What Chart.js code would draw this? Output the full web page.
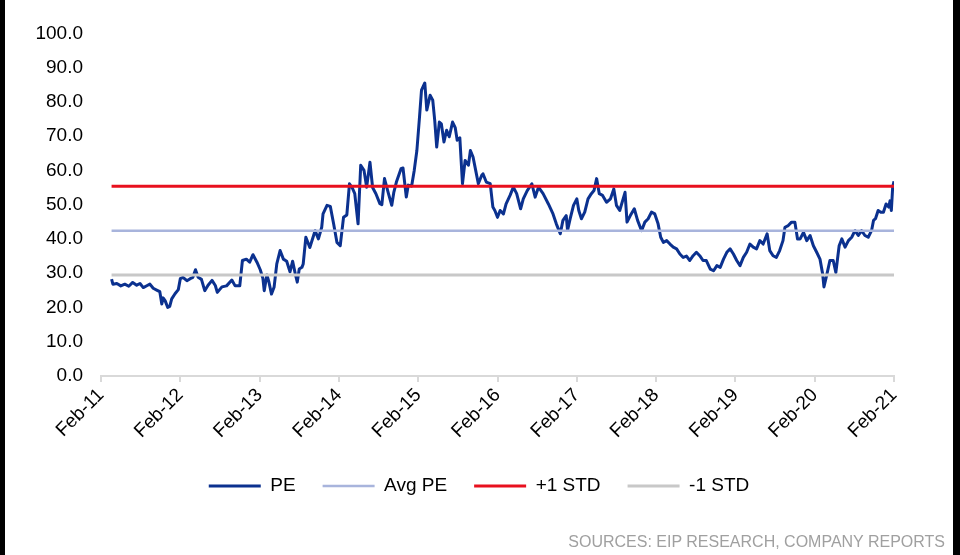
<!DOCTYPE html>
<html>
<head>
<meta charset="utf-8">
<script src="https://cdn.jsdelivr.net/npm/chart.js@4.4.1/dist/chart.umd.min.js"></script>
<style>
  html, body { margin: 0; padding: 0; background: #000; }
  #frame { position: absolute; left: 5px; top: 0; width: 948px; height: 555px; background: #fff; }
  #chart { position: absolute; left: 0; top: 0; }
  #source {
    position: absolute; right: 8px; top: 534px;
    font: 16px "Liberation Sans", Arial, sans-serif; line-height: 16px;
    color: #a0a0a0; white-space: nowrap;
  }
</style>
</head>
<body>
<div id="frame">
  <canvas id="chart" width="948" height="555"></canvas>
  <div id="source">SOURCES: EIP RESEARCH, COMPANY REPORTS</div>
</div>
<script>
// months since Feb-11 (x) and PE multiple (y)
const peMonths = [
  1.6, 1.8, 2.4, 3.0, 3.6, 4.2, 4.8, 5.4, 5.9, 6.4,
  7.0, 7.4, 7.9, 8.5, 8.9, 9.2, 9.4, 9.7, 10.1, 10.4,
  10.7, 11.2, 11.7, 12.0, 12.4, 13.0, 13.5, 13.9, 14.3, 14.7,
  15.2, 15.7, 16.2, 16.8, 17.3, 17.6, 18.3, 19.0, 19.8, 20.3,
  21.0, 21.4, 22.0, 22.5, 23.0, 23.6, 24.1, 24.5, 24.7, 25.1,
  25.4, 25.8, 26.2, 26.6, 27.1, 27.6, 28.1, 28.6, 29.0, 29.4,
  29.7, 30.0, 30.4, 30.6, 31.0, 31.6, 32.4, 32.9, 33.4, 33.6,
  34.2, 34.7, 35.2, 35.7, 36.2, 36.7, 37.2, 37.6, 38.0, 38.4,
  38.9, 39.3, 39.8, 40.2, 40.7, 41.1, 41.6, 42.2, 42.5, 42.9,
  43.5, 44.0, 44.3, 44.7, 45.4, 45.7, 46.2, 46.5, 47.0, 47.4,
  47.8, 48.2, 48.5, 49.0, 49.3, 49.8, 50.2, 50.5, 50.8, 51.2,
  51.5, 51.9, 52.3, 52.7, 53.2, 53.6, 53.9, 54.3, 54.7, 55.1,
  55.6, 55.9, 56.3, 56.7, 57.1, 57.6, 57.8, 58.3, 58.9, 59.3,
  59.6, 60.0, 60.4, 60.9, 61.3, 61.9, 62.4, 62.9, 63.5, 63.9,
  64.5, 65.2, 65.7, 66.2, 66.9, 67.7, 68.4, 68.9, 69.5, 69.9,
  70.4, 70.6, 71.0, 71.5, 72.0, 72.3, 72.7, 73.2, 73.7, 74.2,
  74.6, 75.0, 75.4, 75.9, 76.5, 77.1, 77.6, 78.0, 78.5, 79.3,
  79.6, 80.1, 80.7, 81.2, 81.8, 82.3, 82.8, 83.3, 83.8, 84.3,
  84.7, 85.1, 85.6, 86.1, 86.6, 87.1, 87.6, 88.1, 88.6, 89.1,
  89.6, 90.1, 90.6, 91.1, 91.6, 92.2, 92.7, 93.2, 93.7, 94.2,
  94.7, 95.2, 95.7, 96.2, 96.7, 97.2, 97.7, 98.2, 98.7, 99.2,
  99.7, 100.2, 100.8, 101.2, 101.7, 102.2, 102.7, 103.2, 103.5, 104.0,
  104.5, 105.0, 105.4, 105.8, 106.3, 106.8, 107.3, 107.8, 108.3, 108.8,
  109.2, 109.4, 109.8, 110.3, 110.8, 111.2, 111.7, 112.1, 112.6, 113.1,
  113.6, 114.1, 114.6, 115.1, 115.6, 116.1, 116.6, 116.9, 117.2, 117.6,
  118.0, 118.4, 118.8, 119.2, 119.4, 119.6, 119.8, 120.0
];
const peValues = [
  28.3, 26.8, 27.0, 26.3, 26.8, 26.2, 27.3, 26.5, 27.0, 25.8,
  26.4, 26.8, 25.6, 25.0, 24.6, 21.0, 22.8, 22.0, 20.0, 20.3,
  22.5, 24.0, 25.2, 28.4, 28.8, 27.8, 28.4, 28.8, 31.0, 28.8,
  28.2, 24.9, 26.5, 27.9, 26.4, 24.4, 26.0, 26.3, 28.0, 26.3,
  26.3, 33.7, 34.1, 33.2, 35.4, 33.2, 31.0, 28.5, 24.9, 29.5,
  27.5, 23.9, 26.0, 32.7, 36.6, 34.1, 33.5, 30.4, 33.5, 29.8,
  27.4, 31.2, 31.7, 32.7, 40.5, 37.5, 42.4, 40.0, 43.4, 47.3,
  49.8, 49.5, 44.4, 39.0, 38.0, 46.3, 47.0, 56.1, 55.0, 53.2,
  44.4, 61.5, 60.0, 55.1, 62.4, 55.0, 53.2, 50.3, 50.0, 57.6,
  53.2, 49.8, 53.5, 56.6, 60.5, 60.7, 52.2, 55.7, 55.4, 60.0,
  65.8, 75.6, 83.4, 85.5, 77.6, 81.9, 80.5, 74.6, 66.8, 74.1,
  73.6, 68.3, 71.7, 69.8, 74.1, 72.5, 68.8, 69.5, 56.1, 62.9,
  61.5, 65.8, 63.9, 60.0, 56.1, 58.5, 59.0, 56.6, 56.1, 49.3,
  48.3, 46.3, 48.3, 47.3, 50.2, 52.7, 55.1, 53.2, 48.8, 51.7,
  54.1, 56.1, 52.2, 55.1, 53.2, 50.2, 47.3, 44.4, 41.5, 45.4,
  46.8, 42.5, 45.9, 49.8, 51.7, 48.3, 45.9, 47.8, 51.7, 53.2,
  54.1, 57.6, 53.2, 52.7, 50.7, 51.7, 54.6, 49.8, 48.3, 53.6,
  44.9, 46.8, 48.8, 45.4, 42.4, 44.9, 45.9, 47.8, 47.3, 44.4,
  40.5, 39.0, 39.5, 38.5, 37.6, 37.1, 35.6, 34.6, 35.0, 33.7,
  35.1, 36.1, 35.1, 33.7, 33.7, 31.2, 30.7, 32.2, 31.7, 34.1,
  36.1, 37.1, 35.6, 33.7, 32.2, 34.6, 36.1, 38.5, 37.6, 37.1,
  39.5, 38.5, 41.5, 36.6, 35.1, 34.6, 36.6, 39.5, 43.4, 43.9,
  44.9, 44.9, 40.0, 40.0, 41.9, 39.5, 41.0, 38.0, 36.1, 34.1,
  29.8, 26.0, 29.3, 33.7, 33.7, 30.2, 38.0, 40.0, 37.6, 39.5,
  40.5, 42.4, 41.0, 42.4, 41.0, 40.5, 42.4, 45.4, 45.9, 48.3,
  47.8, 47.8, 50.2, 49.3, 51.1, 48.3, 55.1, 56.8
];

const avgPE = 42.4;
const plusOneStd = 55.4;
const minusOneStd = 29.5;

// x axis: one tick per February, 2011..2021
const tickYears = ['11', '12', '13', '14', '15', '16', '17', '18', '19', '20', '21'];
const yTicks = [0, 10, 20, 30, 40, 50, 60, 70, 80, 90, 100];

const FONT = '"Liberation Sans", Arial, sans-serif';

const pePoints = peMonths.map((m, i) => ({ x: m, y: peValues[i] }));
const firstX = peMonths[0];
const lastX = peMonths[peMonths.length - 1];
const flat = (v) => [{ x: firstX, y: v }, { x: lastX, y: v }];

new Chart(document.getElementById('chart'), {
  type: 'line',
  data: {
    datasets: [
      { label: 'PE', data: pePoints, borderColor: '#0b318f', borderWidth: 3, order: 1 },
      { label: 'Avg PE', data: flat(avgPE), borderColor: '#a8b4dc', borderWidth: 2.5, order: 0 },
      { label: '+1 STD', data: flat(plusOneStd), borderColor: '#e8101e', borderWidth: 3, order: 0 },
      { label: '-1 STD', data: flat(minusOneStd), borderColor: '#c8c8c8', borderWidth: 3, order: 0 },
    ],
  },
  options: {
    responsive: false,
    animation: false,
    elements: {
      point: { radius: 0, hoverRadius: 0 },
      line: { tension: 0, fill: false, borderJoinStyle: 'round' },
    },
    layout: { padding: { top: 33.3, right: 0, bottom: 49.5, left: 0 } },
    plugins: {
      tooltip: { enabled: false },
      legend: {
        position: 'bottom',
        labels: {
          usePointStyle: true,
          pointStyle: 'line',
          pointStyleWidth: 52,
          padding: 27,
          color: '#000',
          font: { family: FONT, size: 19 },
          sort: (a, b) => a.datasetIndex - b.datasetIndex,
        },
      },
    },
    scales: {
      x: {
        type: 'linear',
        min: 0,
        max: 120,
        afterBuildTicks: (scale) => {
          scale.ticks = tickYears.map((y, i) => ({ value: i * 12 }));
        },
        afterFit: (scale) => {
          scale.height = 73.5;
          scale.paddingRight = 59;
        },
        ticks: {
          autoSkip: false,
          minRotation: 45,
          maxRotation: 45,
          padding: 2,
          color: '#000',
          font: { family: FONT, size: 19 },
          callback: (v) => 'Feb-' + tickYears[Math.round(v / 12)],
        },
        grid: { drawOnChartArea: false, drawTicks: true, tickLength: 6, color: '#d9d9d9', lineWidth: 2 },
        border: { display: true, color: '#d9d9d9', width: 2 },
      },
      y: {
        min: 0,
        max: 100,
        afterBuildTicks: (scale) => {
          scale.ticks = yTicks.map((v) => ({ value: v }));
        },
        afterFit: (scale) => {
          scale.width = 96;
        },
        ticks: {
          padding: 18,
          color: '#000',
          font: { family: FONT, size: 19 },
          callback: (v) => v.toFixed(1),
        },
        grid: { display: false, drawTicks: false },
        border: { display: false },
      },
    },
  },
});
</script>
</body>
</html>
